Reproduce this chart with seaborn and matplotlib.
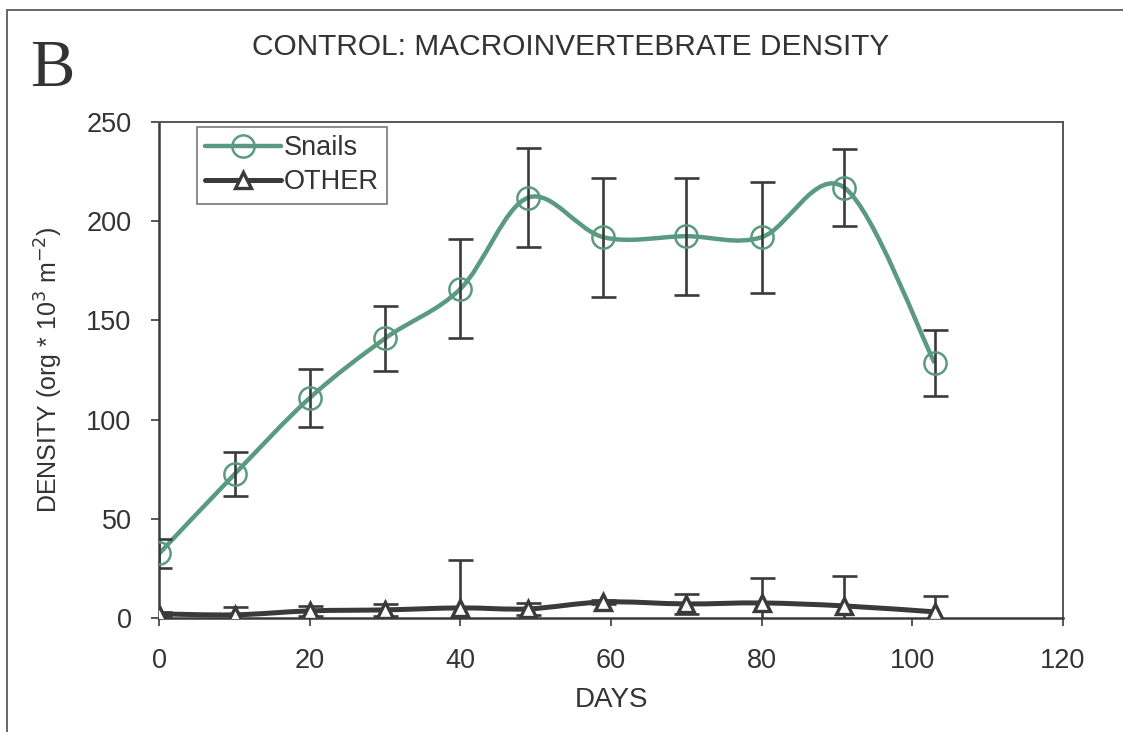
import numpy as np
import pandas as pd
import matplotlib
matplotlib.use("Agg")
import matplotlib.pyplot as plt
from matplotlib.path import Path
from matplotlib.patches import PathPatch, Rectangle
from matplotlib.lines import Line2D
import seaborn as sns

# values
days = [0, 10, 20, 30, 40, 49, 59, 70, 80, 91, 103]
snails = [32.5, 72.5, 111, 141, 166, 212, 192, 192.5, 192, 217, 128.5]
snails_err = [7.5, 11, 14.5, 16.5, 25, 25, 30, 29.5, 28, 19.5, 16.5]
other = [2, 1.5, 3.5, 4, 5, 4.5, 8, 7, 7.5, 6, 3]
other_err = [1, 4, 2.5, 3, 24, 3, 1, 5, 12.5, 15, 8]

series_names = ["Snails", "OTHER"]
x_ticks = [0, 20, 40, 60, 80, 100, 120]
y_ticks = [0, 50, 100, 150, 200, 250]

snail_color = "#5b9a82"
dark = "#3a3a3a"
text_color = "#333333"

sns.set_style("white")
plt.rcParams['font.family'] = ['Liberation Sans', 'DejaVu Sans']


def smooth_path(xs, ys):
    # excel-style smoothed line: catmull-rom segments as cubic beziers
    pts = np.column_stack([xs, ys]).astype(float)
    n = len(pts)
    verts = [pts[0]]
    codes = [Path.MOVETO]
    for i in range(n - 1):
        p0 = pts[i - 1] if i > 0 else pts[i]
        p1 = pts[i]
        p2 = pts[i + 1]
        p3 = pts[i + 2] if i + 2 < n else pts[i + 1]
        c1 = p1 + (p2 - p0) / 6.0
        c2 = p2 - (p3 - p1) / 6.0
        verts += [c1, c2, p2]
        codes += [Path.CURVE4] * 3
    return Path(verts, codes)


df = pd.DataFrame({
    "days": days * 2,
    "density": snails + other,
    "err": snails_err + other_err,
    "group": [series_names[0]] * len(days) + [series_names[1]] * len(days),
})

fig = plt.figure(figsize=(11.23, 7.32), dpi=100)
ax = fig.add_axes([0.1419, 0.156, 0.8044, 0.677])

snail_df = df[df["group"] == "Snails"]
other_df = df[df["group"] == "OTHER"]

# smoothed lines
ax.add_patch(PathPatch(smooth_path(snail_df["days"], snail_df["density"]), facecolor="none",
                       edgecolor=snail_color, lw=3.2, zorder=3, clip_on=False))
ax.add_patch(PathPatch(smooth_path(other_df["days"], other_df["density"]), facecolor="none",
                       edgecolor=dark, lw=3.6, zorder=3))

# error bars
ax.errorbar(snail_df["days"], snail_df["density"], yerr=snail_df["err"], fmt="none",
            ecolor=dark, elinewidth=1.9, capsize=9, capthick=1.9, zorder=4)
ax.errorbar(other_df["days"], other_df["density"], yerr=other_df["err"], fmt="none",
            ecolor=dark, elinewidth=1.9, capsize=9, capthick=1.9, zorder=4)

# markers
sns.lineplot(data=snail_df, x="days", y="density", ax=ax, linestyle="", marker="o",
             markersize=16, markerfacecolor="none", markeredgecolor=snail_color,
             markeredgewidth=1.8, legend=False, zorder=5, errorbar=None)
sns.lineplot(data=other_df, x="days", y="density", ax=ax, linestyle="", marker="^",
             markersize=11, markerfacecolor="white", markeredgecolor=dark,
             markeredgewidth=2.4, legend=False, zorder=5, errorbar=None)

ax.set_xlim(0, 120)
ax.set_ylim(0, 250)
ax.set_xticks(x_ticks)
ax.set_yticks(y_ticks)
ax.tick_params(axis="both", direction="out", length=6, width=1.2, color=dark,
               labelsize=19.5, labelcolor=text_color, bottom=True, left=True)
ax.tick_params(axis="x", pad=16)
ax.tick_params(axis="y", pad=14)
for sp in ax.spines.values():
    sp.set_color("#555555")
    sp.set_linewidth(1.4)
ax.spines["left"].set_color(dark)
ax.spines["left"].set_linewidth(1.8)
ax.spines["bottom"].set_color(dark)
ax.spines["bottom"].set_linewidth(1.8)

ax.set_xlabel("DAYS", fontsize=20, color=text_color)
ax.set_ylabel("DENSITY (org * 10$^{3}$ m$^{-2}$)", fontsize=18, color=text_color)
ax.yaxis.set_label_coords(-0.105, 0.5)
ax.xaxis.set_label_coords(0.5, -0.14)

handles = [
    Line2D([], [], color=snail_color, lw=3.2, marker="o", markersize=16,
           markerfacecolor="none", markeredgecolor=snail_color, markeredgewidth=1.8),
    Line2D([], [], color=dark, lw=3.6, marker="^", markersize=11,
           markerfacecolor="white", markeredgecolor=dark, markeredgewidth=2.4),
]
leg = ax.legend(handles, series_names, loc="upper left", bbox_to_anchor=(0.042, 0.99),
                fontsize=19.5, frameon=True, fancybox=False, edgecolor="#555555",
                handlelength=2.8, handletextpad=0.1, borderpad=0.3, labelspacing=0.3,
                borderaxespad=0)
leg.get_frame().set_linewidth(1.2)
for t in leg.get_texts():
    t.set_color(text_color)

fig.text(0.508, 0.936, "CONTROL: MACROINVERTEBRATE DENSITY", ha="center", va="center",
         fontsize=21.5, color=text_color)
fig.text(0.027, 0.8825, "B", ha="left", va="baseline", fontsize=48,
         family=["Liberation Serif", "DejaVu Serif"], color="#333333")

# scan frame (top and left edges visible)
fig.add_artist(Rectangle((0.0065, -0.05), 1.2, 1.036, transform=fig.transFigure,
                         fill=False, edgecolor="#666666", lw=1.4))

fig.savefig("out.png", dpi=100, facecolor="white")
